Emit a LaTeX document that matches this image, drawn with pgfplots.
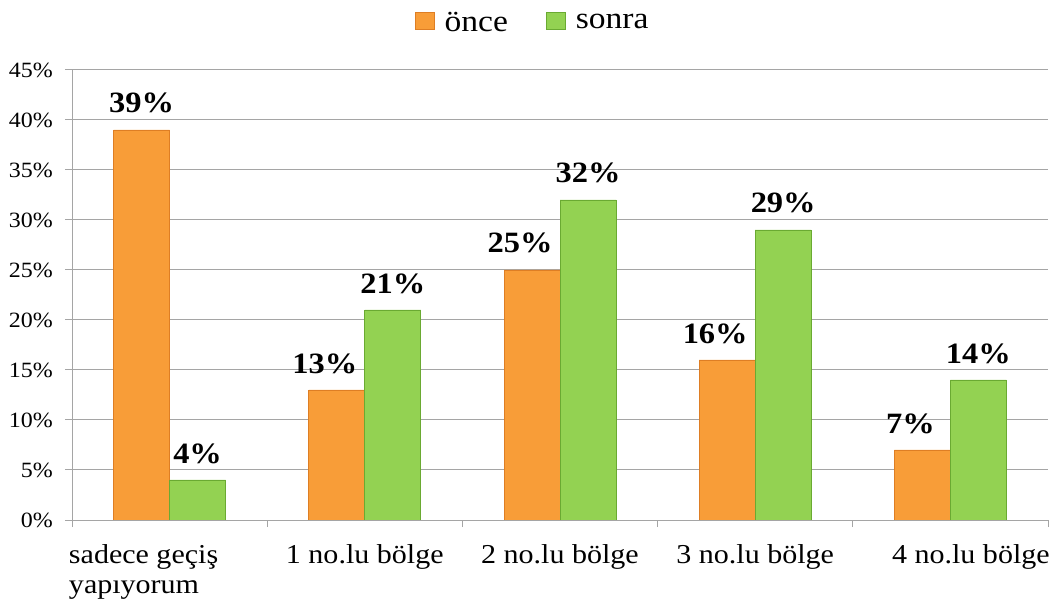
\documentclass[border=0pt]{standalone}
\usepackage{fontspec}
\setmainfont{Liberation Serif}[FakeStretch=1.1]
\usepackage{pgfplots}
\pgfplotsset{compat=1.18}
\definecolor{orfill}{RGB}{248,157,56}
\definecolor{ordk}{RGB}{222,126,36}
\definecolor{grfill}{RGB}{147,210,82}
\definecolor{grdk}{RGB}{106,170,50}
\definecolor{gridc}{RGB}{165,165,165}
\begin{document}
\begin{tikzpicture}
\useasboundingbox (0,0) rectangle (1059bp,613bp);
\begin{axis}[
  at={(72bp,93bp)}, anchor=south west,
  scale only axis, width=976bp, height=450bp,
  ybar=0pt, bar width=56bp,
  xmin=-0.5, xmax=4.5, ymin=0, ymax=45,
  axis x line*=bottom, axis y line*=left,
  axis line style={-, draw=gridc, line width=1bp},
  ytick={0,5,...,45},
  yticklabel={\pgfmathprintnumber{\tick}\%},
  /pgf/number format/assume math mode=true,
  ymajorgrids, grid style={gridc, line width=1bp},
  tick align=outside, major tick length=7bp,
  tick style={gridc, line width=1bp},
  xtick={-0.5,0.5,...,4.5}, xticklabels={},
  extra x ticks={0,1,2,3,4},
  extra x tick labels={{\hspace*{-52bp}\begin{tabular}[t]{@{}l@{}}sadece geçiş\\yapıyorum\end{tabular}},1 no.lu bölge,2 no.lu bölge,3 no.lu bölge,{\hspace*{41bp}4 no.lu bölge}},
  extra x tick style={tick style={draw=none}, grid=none,
    tick label style={font=\fontsize{27.3bp}{30bp}\selectfont, anchor=north, inner sep=0pt, text height=21bp, yshift=-15bp}},
  yticklabel style={font=\fontsize{21.8bp}{24bp}\selectfont, anchor=east, inner sep=0pt, xshift=-12bp},
  nodes near coords,
  every node near coord/.append style={font=\bfseries\fontsize{29.5bp}{32bp}\selectfont, anchor=base, yshift=17bp, inner sep=0pt},
  point meta=explicit symbolic,
  legend style={at={(0.472,1.112)}, anchor=center, draw=none, fill=none, legend columns=2,
    font=\fontsize{30.5bp}{32bp}\selectfont,
    /tikz/every even column/.append style={column sep=36bp}},
  legend image code/.code={\draw[#1] (0bp,-7bp) rectangle (19bp,10bp); \path (27bp,17bp);},
]
\addplot[fill=orfill, draw=ordk, line width=0.8bp, every node near coord/.append style={xshift=-12bp}]
  coordinates {(0,39) [\hspace*{24bp}39\%] (1,13) [13\%] (2,25) [25\%] (3,16) [16\%] (4,7) [7\%]};
\addplot[fill=grfill, draw=grdk, line width=0.8bp]
  coordinates {(0,4) [4\%] (1,21) [21\%] (2,32) [32\%] (3,29) [29\%] (4,14) [14\%]};
\legend{önce,sonra}
\end{axis}
\end{tikzpicture}
\end{document}
